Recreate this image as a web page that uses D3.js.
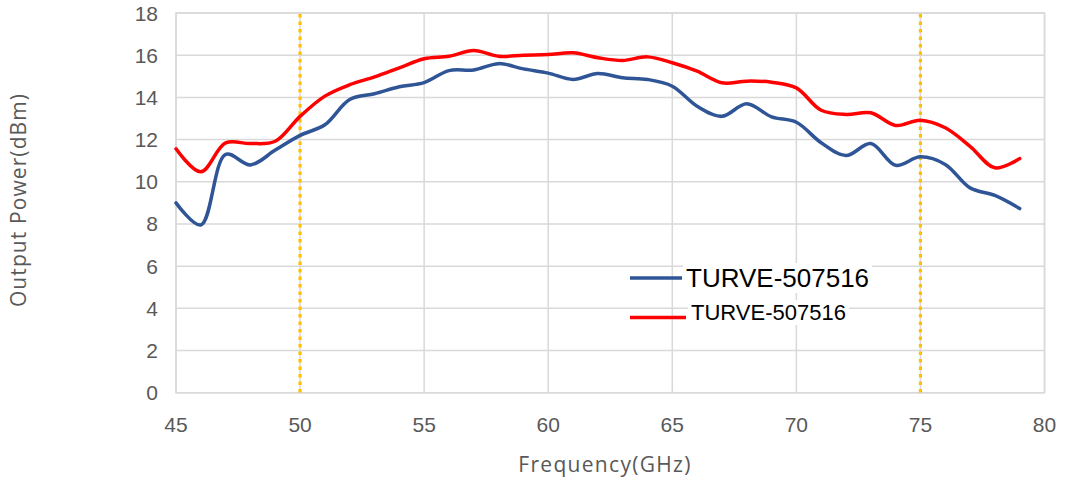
<!DOCTYPE html>
<html><head><meta charset="utf-8">
<script src="https://cdn.jsdelivr.net/npm/d3@7"></script>
<style>body{margin:0;background:#fff}svg{display:block}</style>
</head><body>
<svg id="c" width="1069" height="482"></svg>
<script>
const freqs = [45,46,47,48,49,50,51,52,53,54,55,56,57,58,59,60,61,62,63,64,65,66,67,68,69,70,71,72,73,74,75,76,77,78,79];
const blueVals = [9.0,7.95,11.3,10.8,11.5,12.2,12.7,13.9,14.17,14.5,14.7,15.27,15.3,15.6,15.35,15.15,14.85,15.13,14.93,14.85,14.53,13.58,13.1,13.7,13.08,12.82,11.85,11.24,11.81,10.78,11.18,10.82,9.71,9.35,8.73];
const redVals = [11.56,10.47,11.84,11.81,11.92,13.1,14.06,14.6,14.97,15.4,15.83,15.95,16.22,15.95,16.0,16.03,16.11,15.88,15.75,15.92,15.64,15.24,14.69,14.77,14.72,14.45,13.39,13.19,13.27,12.67,12.92,12.56,11.68,10.66,11.1];
const seriesNames = ["TURVE-507516","TURVE-507516"];
const xTicks = [45,50,55,60,65,70,75,80];
const yTicks = [0,2,4,6,8,10,12,14,16,18];
const markers = [50,75];

const svg = d3.select("#c");
const L=176,R=1044.5,T=13,B=392.7;
const x = d3.scaleLinear().domain([45,80]).range([L,R]);
const y = d3.scaleLinear().domain([0,18]).range([B,T]);
const grid="#d9d9d9", txt="#595959";

const g = svg.append("g");
g.selectAll(".hg").data(yTicks).join("line").attr("x1",L).attr("x2",R)
 .attr("y1",d=>y(d)).attr("y2",d=>y(d)).attr("stroke",grid).attr("stroke-width",1.5);
g.selectAll(".vg").data(xTicks).join("line").attr("y1",T).attr("y2",B)
 .attr("x1",d=>x(d)).attr("x2",d=>x(d)).attr("stroke",grid).attr("stroke-width",1.5);
g.append("rect").attr("x",L).attr("y",T).attr("width",R-L).attr("height",B-T)
 .attr("fill","none").attr("stroke",grid).attr("stroke-width",1.5);

svg.selectAll(".yl").data(yTicks).join("text").attr("x",158).attr("y",d=>y(d)+7.5)
 .attr("text-anchor","end").attr("font-family","Liberation Sans, Arial, sans-serif")
 .attr("font-size",21).attr("fill",txt).text(d=>d);
svg.selectAll(".xl").data(xTicks).join("text").attr("x",d=>x(d)).attr("y",432)
 .attr("text-anchor","middle").attr("font-family","Liberation Sans, Arial, sans-serif")
 .attr("font-size",21).attr("fill",txt).text(d=>d);

svg.append("text").attr("x",605).attr("y",472).attr("text-anchor","middle")
 .attr("font-family","Open Sans, sans-serif").attr("font-size",21).attr("letter-spacing",1.3).attr("fill",txt).text("Frequency(GHz)");
svg.append("text").attr("transform","translate(26,200) rotate(-90)").attr("text-anchor","middle")
 .attr("font-family","Open Sans, sans-serif").attr("font-size",21).attr("letter-spacing",1.1).attr("fill",txt).text("Output Power(dBm)");

const leg = svg.append("g");
const lt1 = leg.append("text").attr("x",686).attr("y",287).attr("font-family","Liberation Sans, Arial, sans-serif")
 .attr("font-size",26).attr("fill","#000").text(seriesNames[0]);
const lt2 = leg.append("text").attr("x",691).attr("y",320).attr("font-family","Liberation Sans, Arial, sans-serif")
 .attr("font-size",22).attr("fill","#000").text(seriesNames[1]);
[lt1,lt2].forEach(t=>{const b=t.node().getBBox();
 leg.insert("rect","text").attr("x",b.x-3).attr("y",b.y).attr("width",b.width+6).attr("height",b.height).attr("fill","#fff");});

svg.selectAll(".mk").data(markers).join("line").attr("x1",d=>x(d)).attr("x2",d=>x(d))
 .attr("y1",T+1).attr("y2",B).attr("stroke","#FFC000").attr("stroke-width",3.2).attr("stroke-dasharray","3.5,4");

const line = d3.line().x((d,i)=>x(freqs[i])).y(d=>y(d)).curve(d3.curveCatmullRom.alpha(0.5));
svg.append("path").attr("d",line(blueVals)).attr("fill","none").attr("stroke","#2F5597").attr("stroke-width",3.5).attr("stroke-linecap","round");
svg.append("path").attr("d",line(redVals)).attr("fill","none").attr("stroke","#FF0000").attr("stroke-width",3.5).attr("stroke-linecap","round");

leg.append("line").attr("x1",630).attr("x2",682).attr("y1",278).attr("y2",278).attr("stroke","#2F5597").attr("stroke-width",3.5);
leg.append("line").attr("x1",630).attr("x2",686).attr("y1",317.5).attr("y2",317.5).attr("stroke","#FF0000").attr("stroke-width",3.5);
</script>
</body></html>
